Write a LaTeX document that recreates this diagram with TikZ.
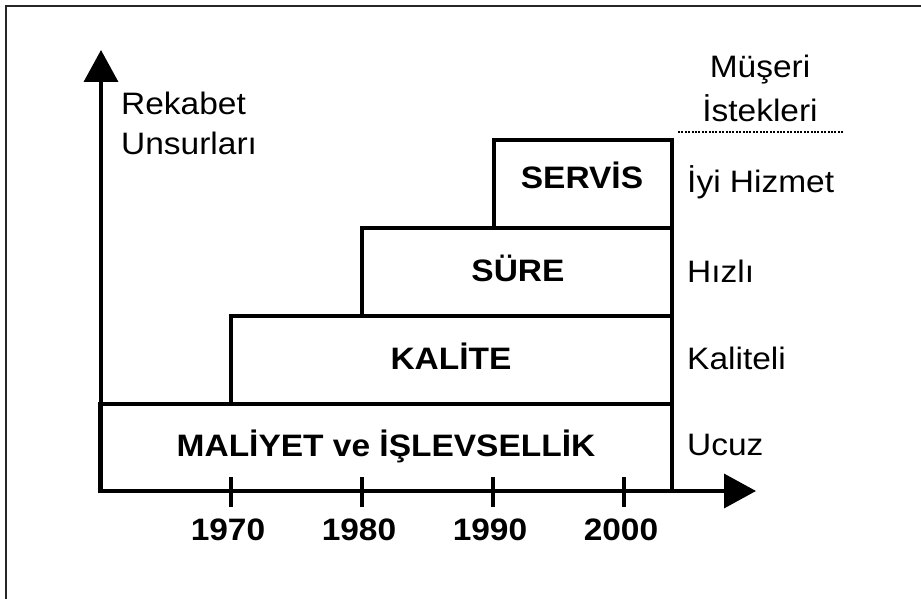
\documentclass[tikz,border=0pt]{standalone}
\usepackage{fontspec}
\setmainfont{Liberation Sans}
\newfontfamily\widesans[FakeStretch=1.08]{Liberation Sans}
\usetikzlibrary{arrows.meta}
\tikzset{
  axisline/.style={line width=3.6pt, -{Triangle[length=32pt,width=34pt]}},
  boxline/.style={line width=3.4pt},
  tickline/.style={line width=3.4pt},
  boxlabel/.style={font=\widesans\fontsize{31}{36}\selectfont\bfseries, inner sep=0pt, anchor=base},
  yearlabel/.style={font=\widesans\fontsize{31}{36}\selectfont\bfseries, inner sep=0pt, anchor=base},
  sidelabel/.style={font=\widesans\fontsize{31}{36}\selectfont, inner sep=0pt, anchor=base west},
  headlabel/.style={font=\widesans\fontsize{31}{36}\selectfont, inner sep=0pt, anchor=base},
}
\begin{document}
\begin{tikzpicture}[x=1pt,y=-1pt]
\useasboundingbox (0,0) rectangle (921,599);
\fill[white] (0,0) rectangle (921,599);
% outer frame
\draw[line width=2.6pt, black!85] (6,599) -- (6,6) -- (921,6);
% boxes
\draw[boxline] (100,404) rectangle (672,491);
\draw[boxline] (231,316) rectangle (672,404);
\draw[boxline] (362,228) rectangle (672,316);
\draw[boxline] (494,140) rectangle (672,228);
% axes
\coordinate (origin) at (101,491);
\coordinate (ytip) at (101,50);
\coordinate (xtip) at (756,491);
\draw[axisline] (origin) -- (ytip);
\draw[axisline] (origin) -- (xtip);
% ticks
\foreach \x/\yr/\n in {231/1970/a,362/1980/b,493/1990/c,624/2000/d}{
  \coordinate (t\n top) at (\x,477);
  \coordinate (t\n bot) at (\x,507);
  \draw[tickline] (t\n top) -- (t\n bot);
  \node[yearlabel] (y\n) at (\x-3,540) {\yr};
}
% box labels
\node[boxlabel] (servis) at (582,188) {SERVİS};
\node[boxlabel] (sure) at (518,281) {SÜRE};
\node[boxlabel] (kalite) at (451,369) {KALİTE};
\node[boxlabel] (maliyet) at (386,456) {MALİYET ve İŞLEVSELLİK};
% side labels
\node[sidelabel] (iyi) at (687,192) {İyi Hizmet};
\node[sidelabel] (hizli) at (687,282) {Hızlı};
\node[sidelabel] (kaliteli) at (687,369) {Kaliteli};
\node[sidelabel] (ucuz) at (687,455) {Ucuz};
% header
\node[headlabel] (musteri) at (760,78) {Müşeri};
\node[headlabel] (istekleri) at (760,122) {İstekleri};
\coordinate (dotl) at (678,132);
\coordinate (dotr) at (843,132);
\draw[line width=2.6pt, dash pattern=on 2pt off 1.4pt] (dotl) -- (dotr);
% axis title
\node[headlabel, anchor=base west] (rekabet) at (121,115) {Rekabet};
\node[headlabel, anchor=base west] (unsur) at (121,154) {Unsurları};
\end{tikzpicture}
\end{document}
